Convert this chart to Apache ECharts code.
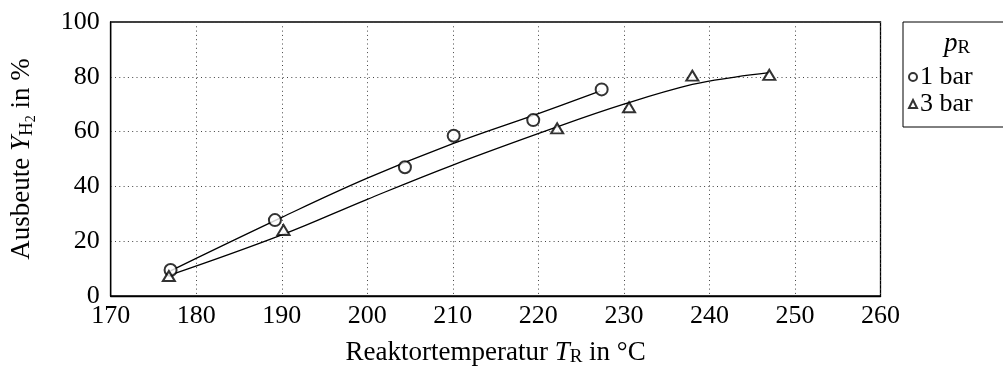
<!DOCTYPE html>
<html>
<head>
<meta charset="utf-8">
<script src="https://cdn.jsdelivr.net/npm/echarts@6/dist/echarts.min.js"></script>
<style>
html,body{margin:0;padding:0;background:#fff;}
#chart{width:1003px;height:374px;}
</style>
</head>
<body>
<div id="chart"></div>
<script>
// Measured points
const temp1bar = [177.0, 189.2, 204.4, 210.1, 219.4, 227.4];
const yield1bar = [9.5, 27.7, 47.0, 58.5, 64.2, 75.4];
const temp3bar = [176.8, 190.2, 222.2, 230.6, 238.0, 247.0];
const yield3bar = [7.3, 24.1, 61.2, 68.9, 80.4, 80.7];
// Fit curves
const fitTemp1 = [177, 190, 200, 210, 220, 227.2];
const fitYield1 = [9.2, 28.7, 43.0, 55.6, 66.6, 74.8];
const fitTemp3 = [177, 190, 200, 210, 222, 230, 238, 243, 247];
const fitYield3 = [7.7, 22.3, 35.3, 47.8, 61.5, 70.0, 77.2, 79.9, 81.5];
// Axis ticks
const xTicks = [170, 180, 190, 200, 210, 220, 230, 240, 250, 260];
const yTicks = [0, 20, 40, 60, 80, 100];
const seriesNames = ['1 bar', '3 bar'];

const FONT = '"Liberation Serif", "DejaVu Serif", serif';
const zip = (a, b) => a.map((v, i) => [v, b[i]]);

const chart = echarts.init(document.getElementById('chart'), null, {renderer: 'canvas'});
const base = {fontFamily: FONT, color: '#000'};

chart.setOption({
  animation: false,
  backgroundColor: '#fff',
  grid: {left: 110.7, right: 122.5, top: 22, bottom: 78, show: true, borderColor: '#000', borderWidth: 1.3, backgroundColor: 'transparent'},
  xAxis: {
    type: 'value', min: xTicks[0], max: xTicks[xTicks.length - 1], interval: 10,
    axisLine: {show: true, lineStyle: {color: '#000', width: 1.3}},
    axisTick: {show: false},
    axisLabel: {fontFamily: FONT, fontSize: 26, color: '#000', margin: 7},
    splitLine: {show: true, lineStyle: {color: '#444', width: 1, type: [1, 3.3]}},
    name: '{n|Reaktortemperatur }{i|T}{s|R}{n| in °C}',
    nameLocation: 'middle', nameGap: 42,
    nameTextStyle: {
      fontFamily: FONT, fontSize: 27, color: '#000',
      rich: {
        n: {...base, fontSize: 27},
        i: {...base, fontSize: 27, fontStyle: 'italic'},
        s: {...base, fontSize: 19, padding: [10, 0, 0, 0]}
      }
    }
  },
  yAxis: {
    type: 'value', min: yTicks[0], max: yTicks[yTicks.length - 1], interval: 20,
    axisLine: {show: true, lineStyle: {color: '#000', width: 1.3}},
    axisTick: {show: false},
    axisLabel: {fontFamily: FONT, fontSize: 26, color: '#000', margin: 11},
    splitLine: {show: true, lineStyle: {color: '#444', width: 1, type: [1, 3.3]}},
    name: '{n|Ausbeute }{i|Y}{s|H}{ss|2}{n| in %}',
    nameLocation: 'middle', nameGap: 72, nameRotate: 90,
    nameTextStyle: {
      fontFamily: FONT, fontSize: 27, color: '#000',
      rich: {
        n: {...base, fontSize: 27},
        i: {...base, fontSize: 27, fontStyle: 'italic'},
        s: {...base, fontSize: 19, padding: [10, 0, 0, 0]},
        ss: {...base, fontSize: 14, padding: [19, 0, 0, 0]}
      }
    }
  },
  legend: {
    orient: 'vertical', left: 903, top: 22,
    padding: [42, 40, 10, 5],
    borderColor: '#000', borderWidth: 1,
    itemWidth: 8, itemHeight: 8, itemGap: 1,
    data: [{name: seriesNames[0], icon: 'emptyCircle'}, {name: seriesNames[1], icon: 'emptyTriangle'}],
    textStyle: {fontFamily: FONT, fontSize: 26, color: '#000', padding: [0, 0, 0, -2], lineHeight: 26}
  },
  graphic: [{
    type: 'text', left: 944, top: 30,
    style: {
      text: '{i|p}{s|R}',
      rich: {
        i: {fontFamily: FONT, fontSize: 27, fontStyle: 'italic', fill: '#000'},
        s: {fontFamily: FONT, fontSize: 19, fill: '#000', padding: [10, 0, 0, 0]}
      }
    }
  }],
  series: [
    {type: 'line', name: 'fit1', data: zip(fitTemp1, fitYield1), smooth: 0.4, showSymbol: false, symbol: 'none',
     lineStyle: {color: '#000', width: 1.3}, z: 2, silent: true},
    {type: 'line', name: 'fit3', data: zip(fitTemp3, fitYield3), smooth: 0.4, showSymbol: false, symbol: 'none',
     lineStyle: {color: '#000', width: 1.3}, z: 2, silent: true},
    {type: 'scatter', name: seriesNames[0], data: zip(temp1bar, yield1bar), symbol: 'emptyCircle', symbolSize: 12,
     itemStyle: {color: '#000', borderColor: '#000', borderWidth: 1.1}, z: 3},
    {type: 'scatter', name: seriesNames[1], data: zip(temp3bar, yield3bar), symbol: 'emptyTriangle', symbolSize: [12, 10],
     itemStyle: {color: '#000', borderColor: '#000', borderWidth: 1.1}, z: 3}
  ]
});
</script>
</body>
</html>
